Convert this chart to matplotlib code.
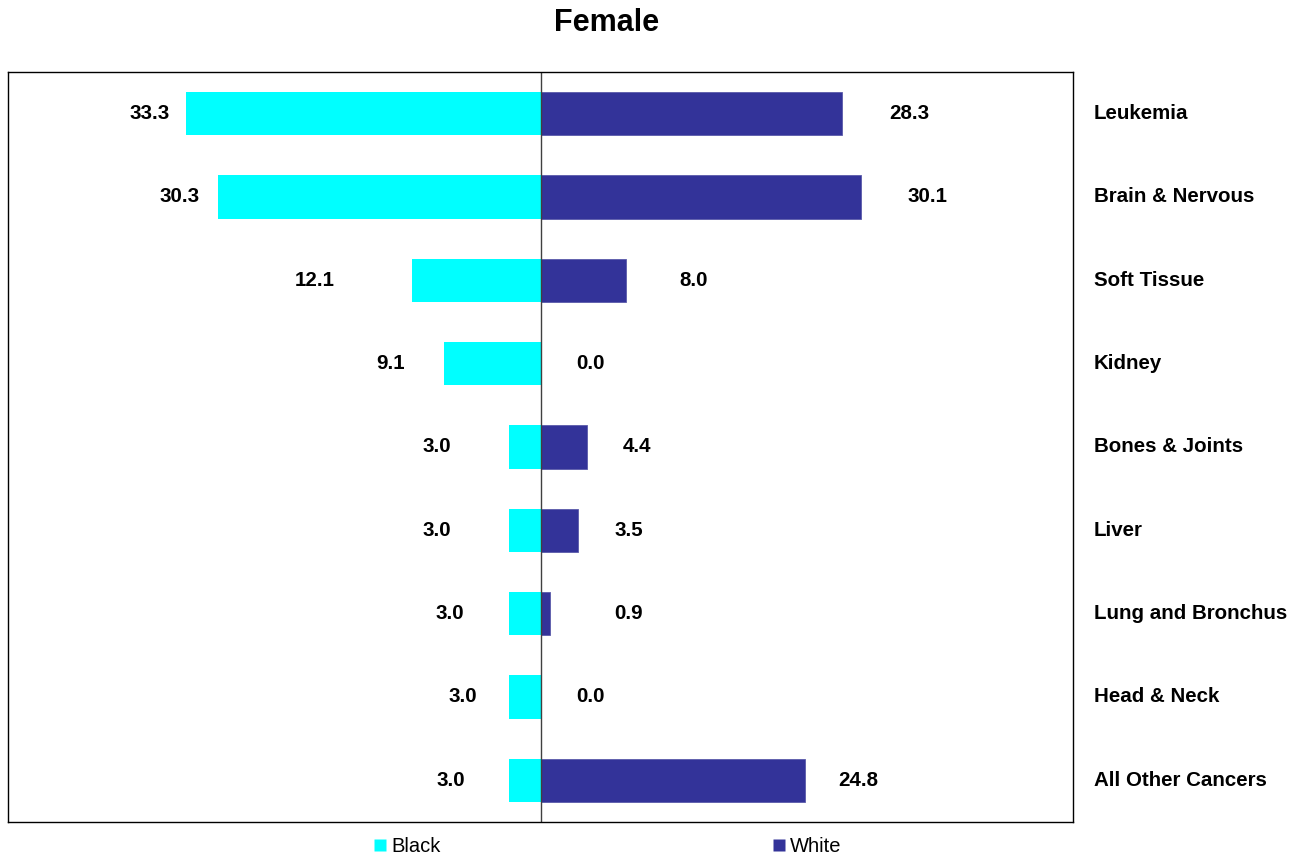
import numpy as np
import matplotlib.pyplot as plt
from matplotlib.lines import Line2D

plt.rcParams['font.family'] = ['Liberation Sans', 'DejaVu Sans']

categories = ['Leukemia', 'Brain & Nervous', 'Soft Tissue', 'Kidney', 'Bones & Joints',
              'Liver', 'Lung and Bronchus', 'Head & Neck', 'All Other Cancers']
black = [33.3, 30.3, 12.1, 9.1, 3.0, 3.0, 3.0, 3.0, 3.0]
white = [28.3, 30.1, 8.0, 0.0, 4.4, 3.5, 0.9, 0.0, 24.8]

# where the value labels sit (data units, centre of text) - hand placed like the original
black_label_x = [-36.7, -33.9, -21.2, -14.1, -9.7, -9.7, -8.5, -7.3, -8.4]
white_label_x = [34.6, 36.3, 14.4, 4.7, 9.1, 8.3, 8.3, 4.7, 29.8]

c_black = '#00FFFF'
c_white = '#333399'

fig = plt.figure(figsize=(13.04, 8.58), dpi=100)
ax = fig.add_axes([8 / 1304, 1 - 822 / 858, 1065 / 1304, 750 / 858])

y = np.arange(len(categories))
ax.barh(y, -np.array(black), height=0.52, color=c_black, edgecolor='none')
ax.barh(y, white, height=0.52, color=c_white, edgecolor='#5a5aaa', linewidth=0.6)
ax.axvline(0, color='#404040', linewidth=1.0)

for i in range(len(categories)):
    ax.text(black_label_x[i], y[i], f'{black[i]:.1f}', ha='center', va='center',
            fontsize=14.8, fontweight='bold')
    ax.text(white_label_x[i], y[i], f'{white[i]:.1f}', ha='center', va='center',
            fontsize=14.8, fontweight='bold')
    ax.text(1.0197, y[i], categories[i], transform=ax.get_yaxis_transform(),
            ha='left', va='center', fontsize=14.8, fontweight='bold')

ax.set_xlim(-50, 50)
ax.set_ylim(len(categories) - 0.5, -0.5)
ax.set_xticks([])
ax.set_yticks([])
for s in ax.spines.values():
    s.set_color('black')
    s.set_linewidth(1.0)

fig.text(0.465, 1 - 23 / 858, 'Female', ha='center', va='center',
         fontsize=22, fontweight='bold')

handles = [Line2D([], [], marker='s', linestyle='none', markersize=8,
                  markerfacecolor=c_black, markeredgecolor='none'),
           Line2D([], [], marker='s', linestyle='none', markersize=8,
                  markerfacecolor=c_white, markeredgecolor='none')]
fig.legend(handles, ['Black', 'White'], loc='center', bbox_to_anchor=(0.466, 1 - 847 / 858),
           ncol=2, frameon=False, fontsize=14.5, handlelength=0.6, handletextpad=0.25,
           columnspacing=16.5, borderpad=0, borderaxespad=0)

fig.savefig('out.png', dpi=100)
